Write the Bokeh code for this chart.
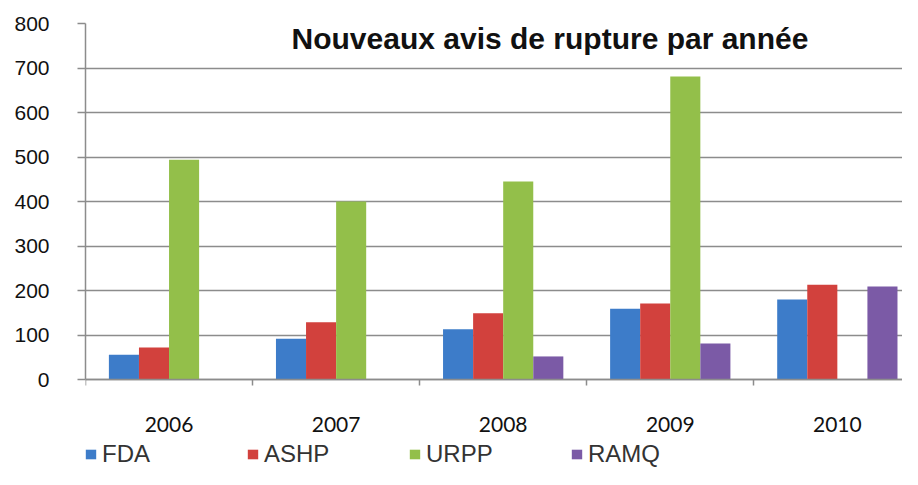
from bokeh.plotting import figure
from bokeh.models import (ColumnDataSource, FixedTicker, Legend, LegendItem, Label,
                          CustomJSTickFormatter, Range1d)
from bokeh.embed import file_html
from bokeh.resources import INLINE

# ---- data ----
years = ["2006", "2007", "2008", "2009", "2010"]
series = ["FDA", "ASHP", "URPP", "RAMQ"]
fda = [56, 92, 113, 159, 180]
ashp = [72, 129, 149, 171, 213]
urpp = [494, 400, 445, 681, 0]
ramq = [0, 0, 52, 81, 209]
colors = ["#3d7cc9", "#d2413d", "#93bf4a", "#7b5aa6"]
y_ticks = [0, 100, 200, 300, 400, 500, 600, 700, 800]
title_text = "Nouveaux avis de rupture par année"

values = [fda, ashp, urpp, ramq]
xs = list(range(len(years)))

# frame extends below zero to host the category labels and the legend
p = figure(frame_width=817, frame_height=446, output_backend="svg", toolbar_location=None,
           x_range=Range1d(-0.5, 4.39), y_range=Range1d(-202, 800),
           min_border_left=85, min_border_right=0, min_border_top=23,
           min_border_bottom=0)
p.outline_line_color = None
p.background_fill_color = "white"

bw = 0.18
offsets = [-1.5, -0.5, 0.5, 1.5]
renderers = []
for name, vals, col, off in zip(series, values, colors, offsets):
    src = ColumnDataSource(dict(x=[x + off * bw for x in xs], top=vals))
    r = p.vbar(x="x", top="top", width=bw, source=src, fill_color=col, line_color=None)
    renderers.append(r)

# y axis
p.yaxis.ticker = FixedTicker(ticks=y_ticks)
p.yaxis.bounds = (0, 800)
p.yaxis.axis_line_color = "#8c8c8c"
p.yaxis.axis_line_width = 1.5
p.yaxis.major_tick_out = 8
p.yaxis.major_tick_in = 0
p.yaxis.major_tick_line_color = "#8c8c8c"
p.yaxis.major_tick_line_width = 1.5
p.yaxis.minor_tick_line_color = None
p.yaxis.major_label_standoff = 28
p.yaxis.major_label_text_font = "Liberation Sans"
p.yaxis.major_label_text_font_size = "21px"
p.yaxis.major_label_text_color = "#111111"

# x axis at value 0: labels at centers, ticks at boundaries
p.xaxis.fixed_location = 0
p.xaxis.ticker = FixedTicker(ticks=xs, minor_ticks=[x + 0.5 for x in [-1] + xs])
p.xaxis.formatter = CustomJSTickFormatter(args=dict(labels=years),
                                          code="return labels[Math.round(tick)];")
p.xaxis.axis_line_color = "#8c8c8c"
p.xaxis.axis_line_width = 1.5
p.xaxis.major_tick_line_color = None
p.xaxis.major_tick_out = 0
p.xaxis.minor_tick_out = 6
p.xaxis.minor_tick_in = 0
p.xaxis.minor_tick_line_color = "#8c8c8c"
p.xaxis.minor_tick_line_width = 1.5
p.xaxis.major_label_standoff = 31
p.xaxis.major_label_text_font = "Lato"
p.xaxis.major_label_text_font_size = "21px"
p.xaxis.major_label_text_color = "#111111"

p.xgrid.grid_line_color = None
p.ygrid.ticker = FixedTicker(ticks=y_ticks)
p.ygrid.grid_line_color = "#8c8c8c"
p.ygrid.grid_line_width = 1.5

# title inside plot
p.add_layout(Label(x=2.28, y=766, text=title_text, text_align="center",
                   text_baseline="middle", text_font="Liberation Sans",
                   text_font_style="bold", text_font_size="30px",
                   text_color="#111111"))

# legend under the category labels
legend = Legend(items=[LegendItem(label=n, renderers=[r]) for n, r in zip(series, renderers)],
                location=(-1, 1), orientation="horizontal",
                glyph_width=13, glyph_height=12, label_standoff=5,
                label_width=144, spacing=0, padding=0, margin=0,
                border_line_color=None, background_fill_alpha=0,
                label_text_font="Liberation Sans", label_text_font_size="24px",
                label_text_color="#333333", label_height=24)
p.add_layout(legend, "center")

open("out.html", "w").write(file_html(p, INLINE))
